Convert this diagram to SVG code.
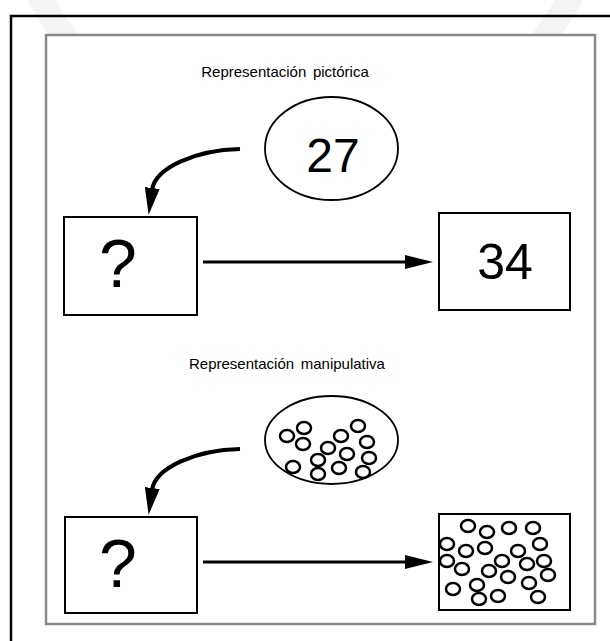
<svg xmlns="http://www.w3.org/2000/svg" width="610" height="641" viewBox="0 0 610 641">
<defs>
<style>
.t{font-family:"Liberation Sans",Arial,sans-serif;fill:#000}
.title{font-size:15px;word-spacing:2.5px}
.big{font-size:48px}
.q{font-size:68px}
.box{fill:#fff;stroke:#000;stroke-width:2}
.oval{fill:#fff;stroke:#000;stroke-width:1.8}
.dot{fill:none;stroke:#000;stroke-width:2.5}
.conn{fill:none;stroke:#000}
.straight{stroke-width:3}
.curve{stroke-width:4.2}
</style>
<marker id="ah" markerUnits="userSpaceOnUse" viewBox="0 0 28 14" refX="2" refY="7" markerWidth="28" markerHeight="14" orient="auto"><path d="M0,0 L28,7 L0,14z"/></marker>
<marker id="ahc" markerUnits="userSpaceOnUse" viewBox="0 0 27 15" refX="2" refY="7.5" markerWidth="27" markerHeight="15" orient="auto"><path d="M0,0 L27,7.5 L0,15z"/></marker>
</defs>
<rect width="610" height="641" fill="#fff"/>
<g id="watermark">
<path d="M27,0 A316,316 0 0 0 583,0 L555,0 A290,290 0 0 1 55,0 Z" fill="#f4f4f4"/>
</g>
<g id="frame">
<path d="M11,641 V16 H610" fill="none" stroke="#000" stroke-width="2.5"/>
<rect x="46" y="35" width="549" height="589" fill="#fff" stroke="#8a8a8a" stroke-width="2.5"/>
</g>
<g id="title-pictorica"><text class="t title" x="285" y="77" text-anchor="middle">Representación pictórica</text></g>
<g id="title-manipulativa"><text class="t title" x="287" y="369" text-anchor="middle">Representación manipulativa</text></g>
<g id="connectors">
<path class="conn curve" d="M240,149 C195,150 155,168 152,190" marker-end="url(#ahc)"/>
<path class="conn straight" d="M203,262 H407" marker-end="url(#ah)"/>
<path class="conn curve" d="M240,449 C195,450 155,468 152,490" marker-end="url(#ahc)"/>
<path class="conn straight" d="M203,562 H407" marker-end="url(#ah)"/>
</g>
<g id="n27">
<ellipse class="oval" cx="331.5" cy="148.5" rx="66.5" ry="51.5"/>
<text class="t big" x="333" y="172" text-anchor="middle">27</text>
</g>
<g id="q1">
<rect class="box" x="64" y="217" width="133" height="98"/>
<text class="t q" x="118" y="287" text-anchor="middle">?</text>
</g>
<g id="n34">
<rect class="box" x="439" y="213" width="131" height="97"/>
<text class="t big" x="505" y="279" text-anchor="middle" style="font-size:50px">34</text>
</g>
<g id="cluster">
<ellipse class="oval" cx="331.5" cy="440" rx="66.5" ry="44"/>
<g class="dot">
<ellipse cx="287" cy="436" rx="7" ry="6"/>
<ellipse cx="304" cy="428" rx="7" ry="6"/>
<ellipse cx="303" cy="444" rx="7" ry="6"/>
<ellipse cx="328" cy="448" rx="7" ry="6"/>
<ellipse cx="341" cy="436" rx="7" ry="6"/>
<ellipse cx="358" cy="426" rx="7" ry="6"/>
<ellipse cx="367" cy="442" rx="7" ry="6"/>
<ellipse cx="347" cy="454" rx="7" ry="6"/>
<ellipse cx="318" cy="460" rx="7" ry="6"/>
<ellipse cx="293" cy="467" rx="7" ry="6"/>
<ellipse cx="339" cy="468" rx="7" ry="6"/>
<ellipse cx="369" cy="458" rx="7" ry="6"/>
<ellipse cx="363" cy="472" rx="7" ry="6"/>
<ellipse cx="318" cy="474" rx="7" ry="6"/>
</g>
</g>
<g id="q2">
<rect class="box" x="65" y="517" width="132" height="96"/>
<text class="t q" x="118" y="587" text-anchor="middle">?</text>
</g>
<g id="manybox">
<rect class="box" x="439" y="514" width="131" height="96"/>
<g class="dot">
<ellipse cx="468" cy="526" rx="7" ry="6"/>
<ellipse cx="487" cy="532" rx="7" ry="6"/>
<ellipse cx="509" cy="528" rx="7" ry="6"/>
<ellipse cx="533" cy="528" rx="7" ry="6"/>
<ellipse cx="447" cy="544" rx="7" ry="6"/>
<ellipse cx="466" cy="551" rx="7" ry="6"/>
<ellipse cx="485" cy="548" rx="7" ry="6"/>
<ellipse cx="518" cy="551" rx="7" ry="6"/>
<ellipse cx="540" cy="544" rx="7" ry="6"/>
<ellipse cx="447" cy="561" rx="7" ry="6"/>
<ellipse cx="462" cy="569" rx="7" ry="6"/>
<ellipse cx="502" cy="561" rx="7" ry="6"/>
<ellipse cx="527" cy="564" rx="7" ry="6"/>
<ellipse cx="544" cy="561" rx="7" ry="6"/>
<ellipse cx="489" cy="571" rx="7" ry="6"/>
<ellipse cx="508" cy="577" rx="7" ry="6"/>
<ellipse cx="548" cy="575" rx="7" ry="6"/>
<ellipse cx="529" cy="583" rx="7" ry="6"/>
<ellipse cx="453" cy="589" rx="7" ry="6"/>
<ellipse cx="477" cy="585" rx="7" ry="6"/>
<ellipse cx="479" cy="599" rx="7" ry="6"/>
<ellipse cx="498" cy="596" rx="7" ry="6"/>
<ellipse cx="538" cy="597" rx="7" ry="6"/>
</g>
</g>
</svg>
